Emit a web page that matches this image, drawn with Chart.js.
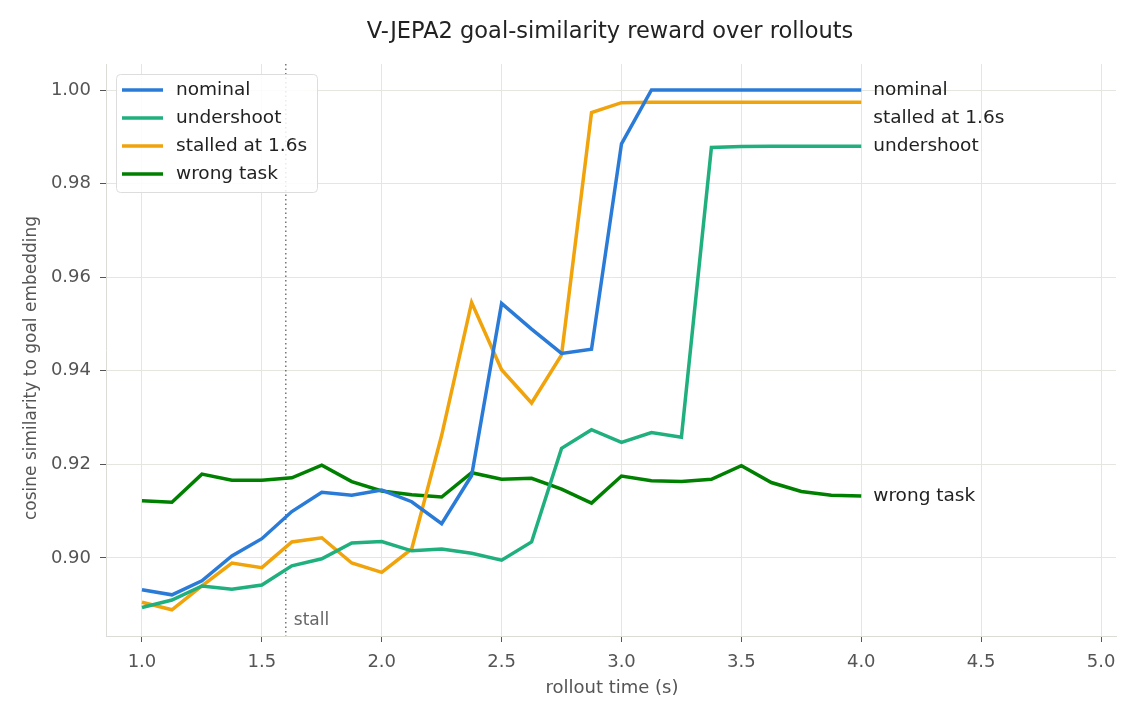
<!DOCTYPE html>
<html>
<head>
<meta charset="utf-8">
<script src="https://cdn.jsdelivr.net/npm/chart.js@4.4.1/dist/chart.umd.min.js"></script>
<style>
  html, body { margin: 0; padding: 0; background: #fff; }
  #wrap { width: 1140px; height: 720px; position: relative; }
</style>
</head>
<body>
<div id="wrap"><canvas id="chart"></canvas></div>
<script>
// rollout time samples (s)
const times = [1.0, 1.125, 1.25, 1.375, 1.5, 1.625, 1.75, 1.875, 2.0, 2.125, 2.25, 2.375,
  2.5, 2.625, 2.75, 2.875, 3.0, 3.125, 3.25, 3.375, 3.5, 3.625, 3.75, 3.875, 4.0];

const nominal = [0.8932, 0.8921, 0.8951, 0.9004, 0.9041, 0.9099, 0.9140, 0.9134, 0.9145, 0.9120,
  0.9073, 0.9176, 0.9544, 0.9489, 0.9437, 0.9446, 0.9885, 1.0000, 1.0000, 1.0000, 1.0000,
  1.0000, 1.0000, 1.0000, 1.0000];
const undershoot = [0.8894, 0.8910, 0.8940, 0.8933, 0.8942, 0.8983, 0.8998, 0.9032, 0.9035, 0.9015,
  0.9019, 0.9010, 0.8995, 0.9034, 0.9234, 0.9274, 0.9247, 0.9268, 0.9258, 0.9877, 0.9879,
  0.9880, 0.9880, 0.9880, 0.9880];
const stalled = [0.8905, 0.8889, 0.8940, 0.8989, 0.8979, 0.9034, 0.9043, 0.8989, 0.8969, 0.9019,
  0.9262, 0.9546, 0.9402, 0.9331, 0.9434, 0.9952, 0.9973, 0.9974, 0.9974, 0.9974, 0.9974,
  0.9974, 0.9974, 0.9974, 0.9974];
const wrongTask = [0.9122, 0.9119, 0.9179, 0.9166, 0.9166, 0.9171, 0.9198, 0.9163, 0.9143, 0.9135,
  0.9130, 0.9182, 0.9168, 0.9170, 0.9147, 0.9117, 0.9175, 0.9165, 0.9163, 0.9168, 0.9197,
  0.9161, 0.9142, 0.9134, 0.9132];

const xTicks = [1.0, 1.5, 2.0, 2.5, 3.0, 3.5, 4.0, 4.5, 5.0];
const yTicks = [0.90, 0.92, 0.94, 0.96, 0.98, 1.00];
const stallTime = 1.6;

const FONT = '"DejaVu Sans", sans-serif';

const series = [
  { label: 'nominal', data: nominal, color: '#2a7bd8', tagDy: 0 },
  { label: 'undershoot', data: undershoot, color: '#1fb07e', tagDy: 0 },
  { label: 'stalled at 1.6s', data: stalled, color: '#f0a30a', tagDy: 16 },
  { label: 'wrong task', data: wrongTask, color: '#008000', tagDy: 0 }
];

// Draw title, axis titles, stall marker, end labels and legend box
const decorPlugin = {
  id: 'decor',
  beforeDatasetsDraw(chart) {
    const { ctx, chartArea, scales } = chart;
    const x = scales.x.getPixelForValue(stallTime);
    ctx.save();
    ctx.strokeStyle = '#555';
    ctx.lineWidth = 1.2;
    ctx.setLineDash([1.5, 3]);
    ctx.beginPath();
    ctx.moveTo(x, chartArea.top);
    ctx.lineTo(x, chartArea.bottom);
    ctx.stroke();
    ctx.setLineDash([]);
    ctx.fillStyle = '#666';
    ctx.font = '17px ' + FONT;
    ctx.textAlign = 'left';
    ctx.textBaseline = 'middle';
    ctx.fillText('stall', x + 8, chartArea.bottom - 15);
    ctx.restore();
  },
  afterDraw(chart) {
    const { ctx, chartArea, scales } = chart;
    ctx.save();
    // title
    ctx.fillStyle = '#222';
    ctx.font = '22.5px ' + FONT;
    ctx.textAlign = 'center';
    ctx.textBaseline = 'middle';
    ctx.fillText('V-JEPA2 goal-similarity reward over rollouts', 610, 32);

    // axis titles
    ctx.fillStyle = '#555';
    ctx.font = '18px ' + FONT;
    ctx.fillText('rollout time (s)', (chartArea.left + chartArea.right) / 2 + 1, 688);
    ctx.save();
    ctx.translate(32, (chartArea.top + chartArea.bottom) / 2 + 18);
    ctx.rotate(-Math.PI / 2);
    ctx.font = '17px ' + FONT;
    ctx.fillText('cosine similarity to goal embedding', 0, 0);
    ctx.restore();

    // end-of-line labels
    ctx.fillStyle = '#222';
    ctx.font = '18.5px ' + FONT;
    ctx.textAlign = 'left';
    series.forEach(s => {
      const last = s.data.length - 1;
      const px = scales.x.getPixelForValue(times[last]) + 12;
      const py = scales.y.getPixelForValue(s.data[last]) + s.tagDy;
      ctx.fillText(s.label, px, py);
    });

    // legend
    const lx = chartArea.left + 10, ly = chartArea.top + 10, lw = 201, lh = 118;
    ctx.fillStyle = 'rgba(255,255,255,0.85)';
    ctx.strokeStyle = '#dddddd';
    ctx.lineWidth = 1;
    ctx.beginPath();
    ctx.roundRect(lx + 0.5, ly + 0.5, lw, lh, 4);
    ctx.fill();
    ctx.stroke();
    ctx.font = '18.5px ' + FONT;
    series.forEach((s, i) => {
      const y = ly + 16 + i * 28;
      ctx.strokeStyle = s.color;
      ctx.lineWidth = 3.5;
      ctx.beginPath();
      ctx.moveTo(lx + 6, y);
      ctx.lineTo(lx + 47, y);
      ctx.stroke();
      ctx.fillStyle = '#222';
      ctx.fillText(s.label, lx + 60, y);
    });
    ctx.restore();
  }
};

new Chart(document.getElementById('chart'), {
  type: 'line',
  data: {
    labels: times,
    datasets: series.map(s => ({
      label: s.label,
      data: times.map((t, i) => ({ x: t, y: s.data[i] })),
      borderColor: s.color,
      backgroundColor: s.color,
      borderWidth: 3.5,
      pointRadius: 0,
      tension: 0,
      fill: false
    }))
  },
  options: {
    responsive: true,
    maintainAspectRatio: false,
    animation: false,
    layout: { padding: { left: 0, right: 24, top: 64, bottom: 0 } },
    plugins: {
      legend: { display: false },
      title: { display: false },
      tooltip: { enabled: false }
    },
    scales: {
      x: {
        type: 'linear',
        min: 0.85,
        max: 5.0625,
        afterFit(scale) { scale.height = 84; },
        afterBuildTicks(scale) { scale.ticks = xTicks.map(v => ({ value: v })); },
        grid: { color: '#e6e6e1', lineWidth: 1, tickLength: 6, tickColor: '#555' },
        border: { color: '#dcdcd6', width: 1 },
        ticks: {
          color: '#555',
          font: { family: FONT, size: 18 },
          padding: 10,
          maxRotation: 0,
          callback: v => v.toFixed(1)
        }
      },
      y: {
        min: 0.8833,
        max: 1.00556,
        afterFit(scale) { scale.width = 106; },
        afterBuildTicks(scale) { scale.ticks = yTicks.map(v => ({ value: v })); },
        grid: { color: '#e6e6e1', lineWidth: 1, tickLength: 6, tickColor: '#555' },
        border: { color: '#dcdcd6', width: 1 },
        ticks: {
          color: '#555',
          font: { family: FONT, size: 18 },
          padding: 9,
          callback: v => v.toFixed(2)
        }
      }
    }
  },
  plugins: [decorPlugin]
});
</script>
</body>
</html>
